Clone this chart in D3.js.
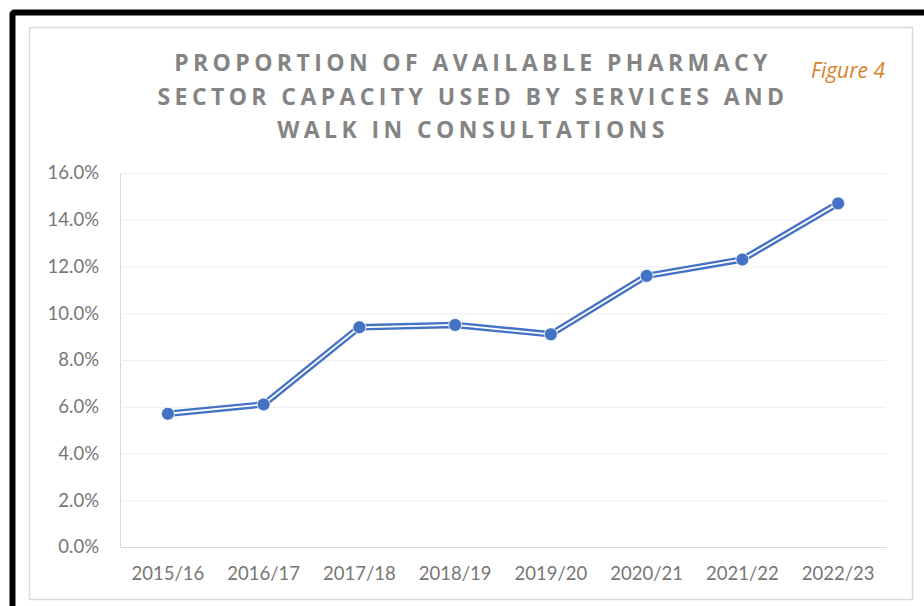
<!DOCTYPE html>
<html>
<head>
<meta charset="utf-8">
<script src="https://cdn.jsdelivr.net/npm/d3@7"></script>
<style>
  html, body { margin: 0; padding: 0; background: #fff; }
  svg { display: block; }
</style>
</head>
<body>
<svg width="924" height="606"></svg>
<script>
// chart values
let years = ['2015/16', '2016/17', '2017/18', '2018/19', '2019/20', '2020/21', '2021/22', '2022/23']
let proportion = [5.7, 6.1, 9.4, 9.5, 9.1, 11.6, 12.3, 14.7]
let yTicks = [0, 2, 4, 6, 8, 10, 12, 14, 16]
let titleLines = [
  'PROPORTION OF AVAILABLE PHARMACY',
  'SECTOR CAPACITY USED BY SERVICES AND',
  'WALK IN CONSULTATIONS'
]
let figureLabel = 'Figure 4'

let blue = '#4472C4'
let labelFont = 'Lato, "Open Sans", sans-serif'
let titleFont = '"Open Sans", sans-serif'

let plot = { left: 120, right: 886, top: 173, bottom: 547 }

let svg = d3.select('svg')

// black outer frame (runs off the right and bottom edges)
svg.append('rect')
  .attr('x', 12.5)
  .attr('y', 12.5)
  .attr('width', 1000)
  .attr('height', 1000)
  .attr('rx', 2)
  .attr('fill', 'none')
  .attr('stroke', '#000')
  .attr('stroke-width', 6)

// light chart area border
svg.append('rect')
  .attr('x', 29.5)
  .attr('y', 27.5)
  .attr('width', 883)
  .attr('height', 572)
  .attr('fill', '#fff')
  .attr('stroke', '#d9d9d9')
  .attr('stroke-width', 1.5)

// title
svg.append('g')
  .selectAll('text')
  .data(titleLines)
  .enter().append('text')
  .attr('x', 473)
  .attr('y', function (d, i) { return 71 + i * 33.5 })
  .attr('text-anchor', 'middle')
  .attr('font-family', titleFont)
  .attr('font-weight', 700)
  .attr('font-size', 23)
  .attr('letter-spacing', 4.4)
  .attr('fill', '#848484')
  .text(function (d) { return d })

svg.append('text')
  .attr('x', 885)
  .attr('y', 78)
  .attr('text-anchor', 'end')
  .attr('font-family', titleFont)
  .attr('font-style', 'italic')
  .attr('font-size', 21)
  .attr('fill', '#D9822B')
  .text(figureLabel)

let x = d3.scaleBand()
  .domain(years)
  .range([plot.left, plot.right])

let y = d3.scaleLinear()
  .domain([0, 16])
  .range([plot.bottom, plot.top])

// value axis with gridlines
let yAxis = svg.append('g')
  .attr('transform', 'translate(' + plot.left + ',0)')
  .call(d3.axisLeft(y)
    .tickValues(yTicks)
    .tickFormat(function (d) { return d.toFixed(1) + '%' })
    .tickSize(-(plot.right - plot.left))
    .tickSizeOuter(0)
    .tickPadding(21))

yAxis.select('.domain').attr('stroke', '#d9d9d9')
yAxis.selectAll('.tick line').attr('stroke', '#eeeeee').attr('stroke-width', 1.2)
yAxis.selectAll('.tick text')
  .attr('font-family', labelFont)
  .attr('font-size', 18.5)
  .attr('fill', '#767676')

// category axis
let xAxis = svg.append('g')
  .attr('transform', 'translate(0,' + plot.bottom + ')')
  .call(d3.axisBottom(x).tickSize(0).tickPadding(20))

xAxis.select('.domain').attr('stroke', '#d9d9d9').attr('stroke-width', 1.2)
xAxis.selectAll('.tick text')
  .attr('font-family', labelFont)
  .attr('font-size', 18.5)
  .attr('fill', '#767676')

// double line: wide blue stroke with a white core
let line = d3.line()
  .x(function (d, i) { return x(years[i]) + x.bandwidth() / 2 })
  .y(function (d) { return y(d) })

svg.append('path')
  .datum(proportion)
  .attr('d', line)
  .attr('fill', 'none')
  .attr('stroke', blue)
  .attr('stroke-width', 6.5)
  .attr('stroke-linejoin', 'round')

svg.append('path')
  .datum(proportion)
  .attr('d', line)
  .attr('fill', 'none')
  .attr('stroke', '#fff')
  .attr('stroke-width', 1.8)
  .attr('stroke-linejoin', 'round')

svg.append('g')
  .selectAll('circle')
  .data(proportion)
  .enter().append('circle')
  .attr('cx', function (d, i) { return x(years[i]) + x.bandwidth() / 2 })
  .attr('cy', function (d) { return y(d) })
  .attr('r', 6.5)
  .attr('fill', blue)
  .attr('stroke', '#fff')
  .attr('stroke-width', 0.8)
</script>
</body>
</html>
